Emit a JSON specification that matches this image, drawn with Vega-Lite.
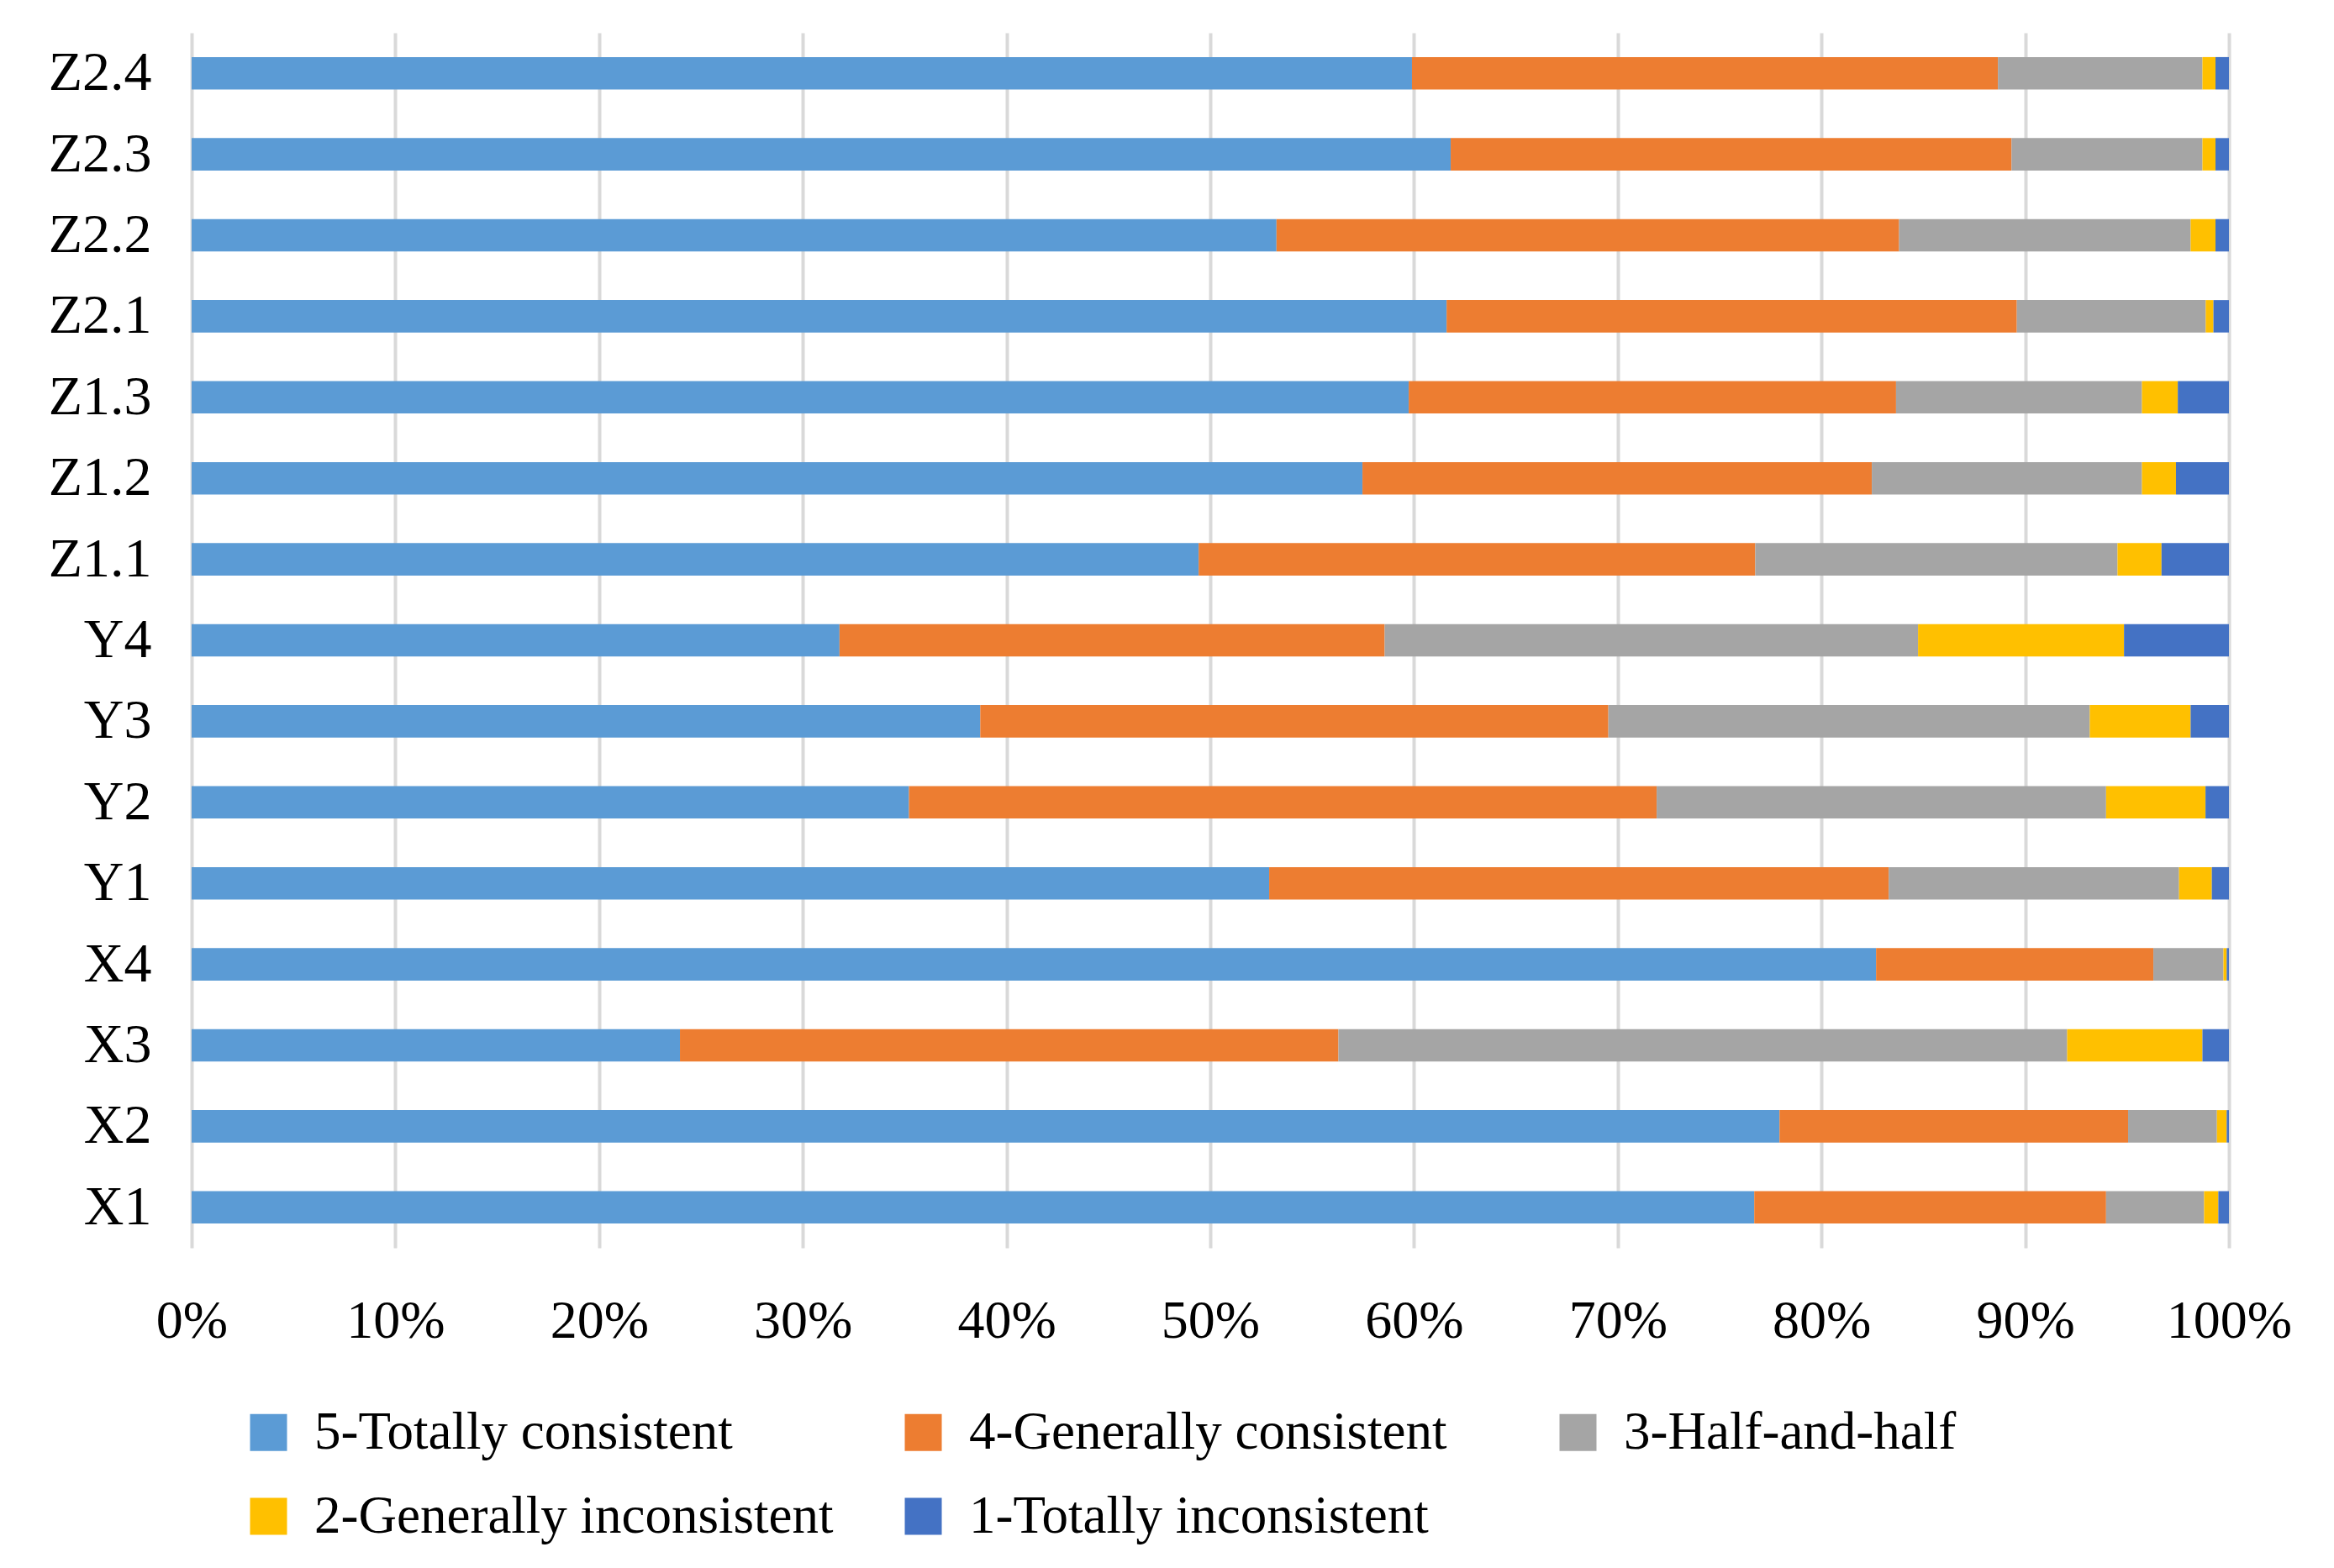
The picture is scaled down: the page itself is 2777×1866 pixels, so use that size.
{
  "$schema": "https://vega.github.io/schema/vega-lite/v6.json",
  "width": 2424,
  "height": 1446,
  "autosize": {"type": "none"},
  "padding": {"left": 228, "top": 39, "right": 125, "bottom": 381},
  "background": "white",
  "config": {
    "view": {"stroke": null},
    "font": "Liberation Serif"
  },
  "data": {
    "values": [
      {"item": "Z2.4", "lv": 5, "cat": "5-Totally consistent", "v": 59.9},
      {"item": "Z2.4", "lv": 4, "cat": "4-Generally consistent", "v": 28.76},
      {"item": "Z2.4", "lv": 3, "cat": "3-Half-and-half", "v": 10.04},
      {"item": "Z2.4", "lv": 2, "cat": "2-Generally inconsistent", "v": 0.64},
      {"item": "Z2.4", "lv": 1, "cat": "1-Totally inconsistent", "v": 0.66},
      {"item": "Z2.3", "lv": 5, "cat": "5-Totally consistent", "v": 61.8},
      {"item": "Z2.3", "lv": 4, "cat": "4-Generally consistent", "v": 27.53},
      {"item": "Z2.3", "lv": 3, "cat": "3-Half-and-half", "v": 9.37},
      {"item": "Z2.3", "lv": 2, "cat": "2-Generally inconsistent", "v": 0.64},
      {"item": "Z2.3", "lv": 1, "cat": "1-Totally inconsistent", "v": 0.66},
      {"item": "Z2.2", "lv": 5, "cat": "5-Totally consistent", "v": 53.25},
      {"item": "Z2.2", "lv": 4, "cat": "4-Generally consistent", "v": 30.56},
      {"item": "Z2.2", "lv": 3, "cat": "3-Half-and-half", "v": 14.31},
      {"item": "Z2.2", "lv": 2, "cat": "2-Generally inconsistent", "v": 1.22},
      {"item": "Z2.2", "lv": 1, "cat": "1-Totally inconsistent", "v": 0.66},
      {"item": "Z2.1", "lv": 5, "cat": "5-Totally consistent", "v": 61.6},
      {"item": "Z2.1", "lv": 4, "cat": "4-Generally consistent", "v": 27.99},
      {"item": "Z2.1", "lv": 3, "cat": "3-Half-and-half", "v": 9.27},
      {"item": "Z2.1", "lv": 2, "cat": "2-Generally inconsistent", "v": 0.38},
      {"item": "Z2.1", "lv": 1, "cat": "1-Totally inconsistent", "v": 0.76},
      {"item": "Z1.3", "lv": 5, "cat": "5-Totally consistent", "v": 59.74},
      {"item": "Z1.3", "lv": 4, "cat": "4-Generally consistent", "v": 23.92},
      {"item": "Z1.3", "lv": 3, "cat": "3-Half-and-half", "v": 12.07},
      {"item": "Z1.3", "lv": 2, "cat": "2-Generally inconsistent", "v": 1.76},
      {"item": "Z1.3", "lv": 1, "cat": "1-Totally inconsistent", "v": 2.51},
      {"item": "Z1.2", "lv": 5, "cat": "5-Totally consistent", "v": 57.47},
      {"item": "Z1.2", "lv": 4, "cat": "4-Generally consistent", "v": 25.0},
      {"item": "Z1.2", "lv": 3, "cat": "3-Half-and-half", "v": 13.26},
      {"item": "Z1.2", "lv": 2, "cat": "2-Generally inconsistent", "v": 1.67},
      {"item": "Z1.2", "lv": 1, "cat": "1-Totally inconsistent", "v": 2.6},
      {"item": "Z1.1", "lv": 5, "cat": "5-Totally consistent", "v": 49.43},
      {"item": "Z1.1", "lv": 4, "cat": "4-Generally consistent", "v": 27.32},
      {"item": "Z1.1", "lv": 3, "cat": "3-Half-and-half", "v": 17.78},
      {"item": "Z1.1", "lv": 2, "cat": "2-Generally inconsistent", "v": 2.16},
      {"item": "Z1.1", "lv": 1, "cat": "1-Totally inconsistent", "v": 3.31},
      {"item": "Y4", "lv": 5, "cat": "5-Totally consistent", "v": 31.8},
      {"item": "Y4", "lv": 4, "cat": "4-Generally consistent", "v": 26.76},
      {"item": "Y4", "lv": 3, "cat": "3-Half-and-half", "v": 26.18},
      {"item": "Y4", "lv": 2, "cat": "2-Generally inconsistent", "v": 10.11},
      {"item": "Y4", "lv": 1, "cat": "1-Totally inconsistent", "v": 5.15},
      {"item": "Y3", "lv": 5, "cat": "5-Totally consistent", "v": 38.71},
      {"item": "Y3", "lv": 4, "cat": "4-Generally consistent", "v": 30.83},
      {"item": "Y3", "lv": 3, "cat": "3-Half-and-half", "v": 23.63},
      {"item": "Y3", "lv": 2, "cat": "2-Generally inconsistent", "v": 4.95},
      {"item": "Y3", "lv": 1, "cat": "1-Totally inconsistent", "v": 1.88},
      {"item": "Y2", "lv": 5, "cat": "5-Totally consistent", "v": 35.21},
      {"item": "Y2", "lv": 4, "cat": "4-Generally consistent", "v": 36.7},
      {"item": "Y2", "lv": 3, "cat": "3-Half-and-half", "v": 22.06},
      {"item": "Y2", "lv": 2, "cat": "2-Generally inconsistent", "v": 4.88},
      {"item": "Y2", "lv": 1, "cat": "1-Totally inconsistent", "v": 1.15},
      {"item": "Y1", "lv": 5, "cat": "5-Totally consistent", "v": 52.89},
      {"item": "Y1", "lv": 4, "cat": "4-Generally consistent", "v": 30.41},
      {"item": "Y1", "lv": 3, "cat": "3-Half-and-half", "v": 14.25},
      {"item": "Y1", "lv": 2, "cat": "2-Generally inconsistent", "v": 1.61},
      {"item": "Y1", "lv": 1, "cat": "1-Totally inconsistent", "v": 0.84},
      {"item": "X4", "lv": 5, "cat": "5-Totally consistent", "v": 82.68},
      {"item": "X4", "lv": 4, "cat": "4-Generally consistent", "v": 13.61},
      {"item": "X4", "lv": 3, "cat": "3-Half-and-half", "v": 3.44},
      {"item": "X4", "lv": 2, "cat": "2-Generally inconsistent", "v": 0.16},
      {"item": "X4", "lv": 1, "cat": "1-Totally inconsistent", "v": 0.11},
      {"item": "X3", "lv": 5, "cat": "5-Totally consistent", "v": 23.97},
      {"item": "X3", "lv": 4, "cat": "4-Generally consistent", "v": 32.32},
      {"item": "X3", "lv": 3, "cat": "3-Half-and-half", "v": 35.77},
      {"item": "X3", "lv": 2, "cat": "2-Generally inconsistent", "v": 6.64},
      {"item": "X3", "lv": 1, "cat": "1-Totally inconsistent", "v": 1.3},
      {"item": "X2", "lv": 5, "cat": "5-Totally consistent", "v": 77.94},
      {"item": "X2", "lv": 4, "cat": "4-Generally consistent", "v": 17.11},
      {"item": "X2", "lv": 3, "cat": "3-Half-and-half", "v": 4.36},
      {"item": "X2", "lv": 2, "cat": "2-Generally inconsistent", "v": 0.48},
      {"item": "X2", "lv": 1, "cat": "1-Totally inconsistent", "v": 0.11},
      {"item": "X1", "lv": 5, "cat": "5-Totally consistent", "v": 76.7},
      {"item": "X1", "lv": 4, "cat": "4-Generally consistent", "v": 17.27},
      {"item": "X1", "lv": 3, "cat": "3-Half-and-half", "v": 4.81},
      {"item": "X1", "lv": 2, "cat": "2-Generally inconsistent", "v": 0.7},
      {"item": "X1", "lv": 1, "cat": "1-Totally inconsistent", "v": 0.52}
    ]
  },
  "mark": {"type": "bar"},
  "encoding": {
    "y": {
      "field": "item",
      "type": "nominal",
      "sort": ["Z2.4", "Z2.3", "Z2.2", "Z2.1", "Z1.3", "Z1.2", "Z1.1", "Y4", "Y3", "Y2", "Y1", "X4", "X3", "X2", "X1"],
      "scale": {"paddingInner": 0.6, "paddingOuter": 0.3},
      "axis": {
        "title": null,
        "ticks": false,
        "domain": false,
        "grid": false,
        "labelFont": "Liberation Serif",
        "labelFontSize": 66,
        "labelColor": "#000000",
        "labelPadding": 48
      }
    },
    "x": {
      "field": "v",
      "type": "quantitative",
      "stack": "normalize",
      "scale": {"domain": [0, 1], "nice": false},
      "axis": {
        "title": null,
        "format": "%",
        "values": [0, 0.1, 0.2, 0.3, 0.4, 0.5, 0.6, 0.7, 0.8, 0.9, 1],
        "ticks": false,
        "domain": false,
        "grid": true,
        "gridColor": "#d9d9d9",
        "gridWidth": 4,
        "labelFont": "Liberation Serif",
        "labelFontSize": 64,
        "labelColor": "#000000",
        "labelPadding": 55,
        "labelFlush": false
      }
    },
    "order": {"field": "lv", "type": "quantitative", "sort": "descending"},
    "color": {
      "field": "cat",
      "type": "nominal",
      "scale": {
        "domain": ["5-Totally consistent", "4-Generally consistent", "3-Half-and-half", "2-Generally inconsistent", "1-Totally inconsistent"],
        "range": ["#5B9BD5", "#ED7D31", "#A5A5A5", "#FFC000", "#4472C4"]
      },
      "legend": {
        "title": null,
        "orient": "none",
        "legendX": 60,
        "legendY": 1634,
        "direction": "horizontal",
        "columns": 3,
        "columnPadding": 75,
        "rowPadding": 36,
        "gridAlign": "all",
        "symbolType": "square",
        "symbolSize": 1936,
        "symbolStrokeWidth": 0,
        "labelOffset": 23,
        "labelFont": "Liberation Serif",
        "labelFontSize": 63,
        "labelColor": "#000000",
        "labelLimit": 1000,
        "padding": 0
      }
    }
  }
}
